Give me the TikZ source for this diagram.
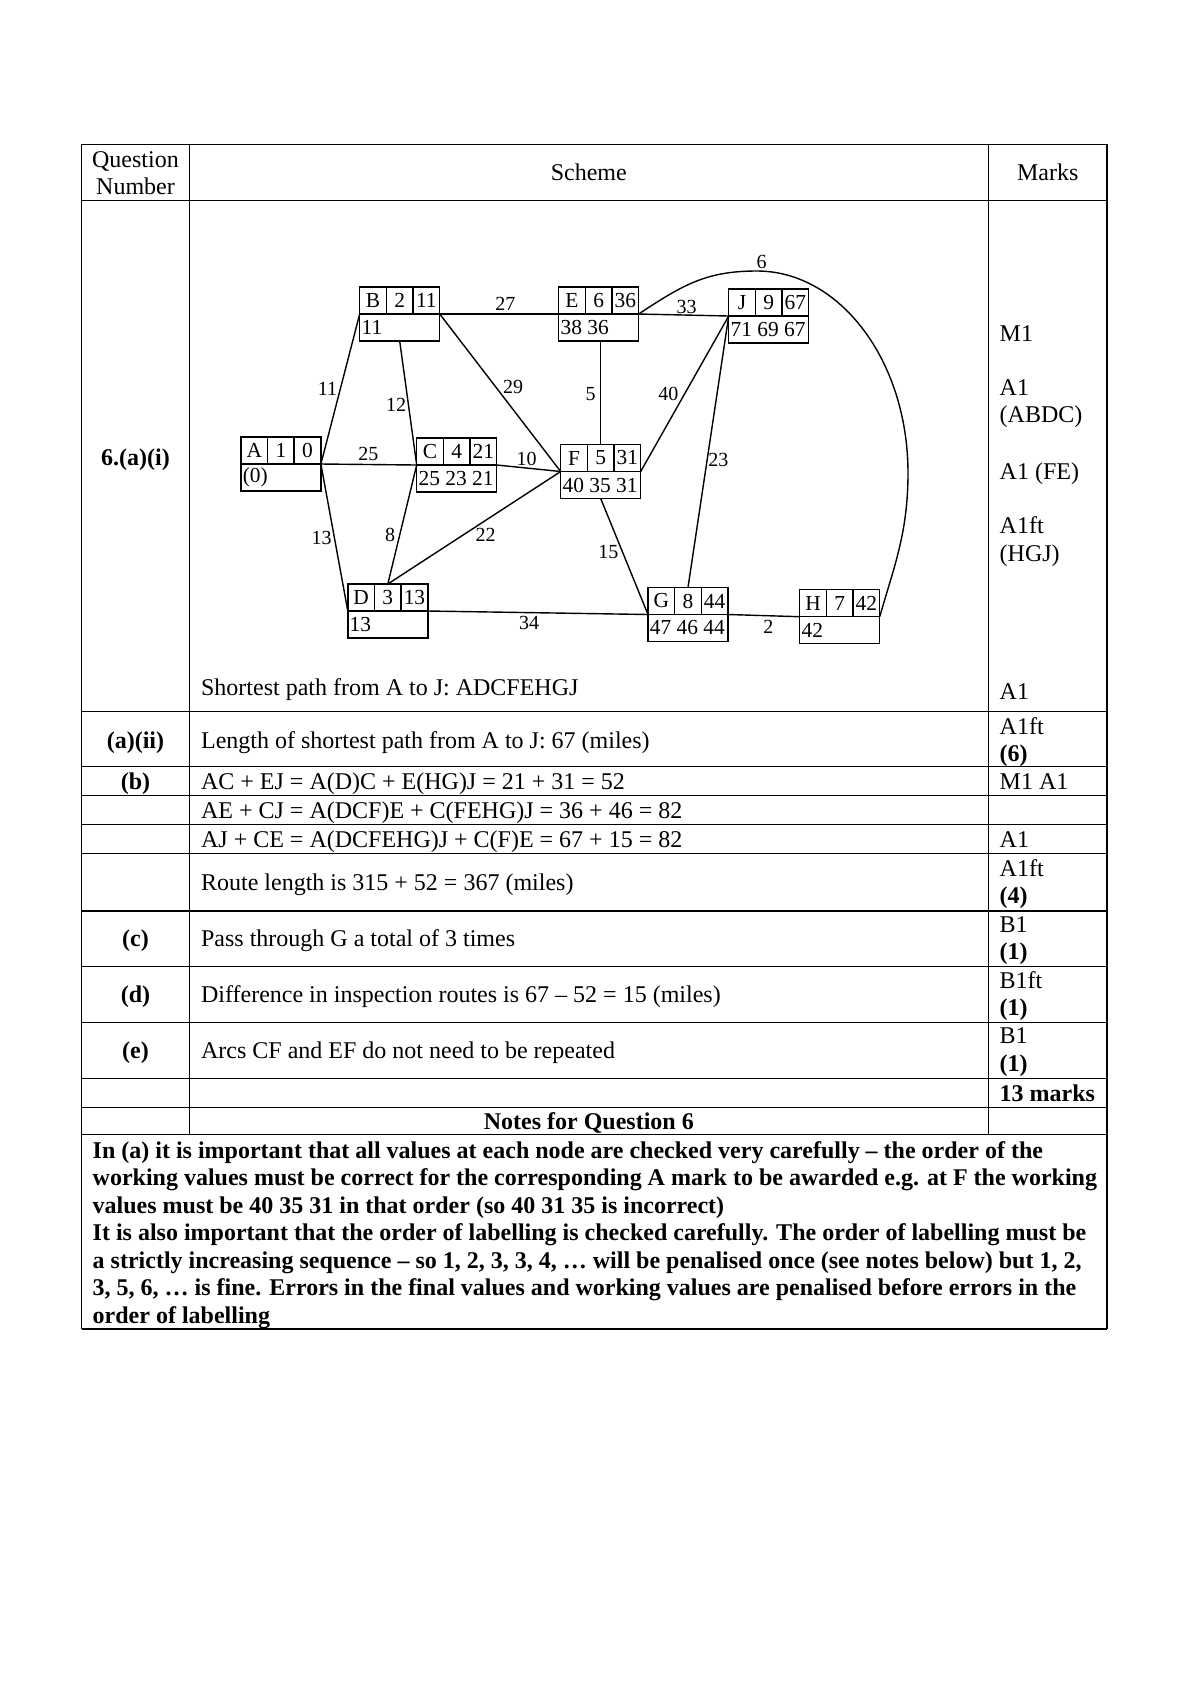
\documentclass[tikz,border=0pt]{standalone}
\usepackage{fontspec}
\setmainfont{Liberation Serif}
\usetikzlibrary{calc}
\tikzset{
  tline/.style={line width=0.55pt},
  gline/.style={line width=0.7pt},
  vbox/.style={draw, line width=0.75pt, minimum width=40pt, minimum height=27pt, inner sep=0pt, outer sep=0pt},
  celltxt/.style={inner sep=0pt, font=\fontsize{10.7}{12}\selectfont},
  wtxt/.style={anchor=west, inner sep=0pt, font=\fontsize{10.7}{12}\selectfont},
  elab/.style={inner sep=0pt, font=\fontsize{10}{12}\selectfont},
  txt/.style={anchor=base west, inner sep=0pt, font=\fontsize{12}{14}\selectfont},
  ctxt/.style={anchor=base, inner sep=0pt, font=\fontsize{12}{14}\selectfont},
  btxt/.style={anchor=base west, inner sep=0pt, font=\fontsize{12}{14}\selectfont\bfseries},
  bctxt/.style={anchor=base, inner sep=0pt, font=\fontsize{12}{14}\selectfont\bfseries},
}
\newcommand\graphvertex[7]{%
  \node[vbox] (#1) at (#2,#3) {};
  \draw[line width=0.75pt] (#1.west) -- (#1.east);
  \draw[line width=0.75pt] ({#2-13.33},{#3-27}) -- ({#2-13.33},#3);
  \draw[line width=0.75pt] ({#2+13.33},{#3-27}) -- ({#2+13.33},#3);
  \node[celltxt] (#1l) at ({#2-26.67},{#3-13.5}) {#4};
  \node[celltxt] (#1o) at (#2,{#3-13.5}) {#5};
  \node[celltxt] (#1f) at ({#2+26.67},{#3-13.5}) {#6};
  \node[wtxt] (#1w) at ({#2-38.5},{#3+13.5}) {#7};
}
\begin{document}
\begin{tikzpicture}[x=0.5pt,y=-0.5pt]
\useasboundingbox[fill=white] (0,0) rectangle (1190,1683);

% ---------- table frame ----------
\foreach \yy in {144.3,200.5,711.3,766.7,795.5,824.5,853.5,911,966.6,1022.5,1078.4,1107.3,1134.8,1329}
  \draw[tline] (81.7,\yy) -- (1107,\yy);
\draw[tline] (81.7,144.3) -- (81.7,1329);
\draw[tline] (1107,144.3) -- (1107,1329);
\draw[tline] (189.3,144.3) -- (189.3,1134.8);
\draw[tline] (988.3,144.3) -- (988.3,1134.8);

% ---------- header ----------
\node[ctxt] (hq1) at (135.5,167.5) {Question};
\node[ctxt] (hq2) at (135.5,194) {Number};
\node[ctxt] (hs) at (588.8,180.5) {Scheme};
\node[ctxt] (hm) at (1047.7,180.5) {Marks};

% ---------- graph ----------
\graphvertex{A}{280.9}{464}{A}{1}{0}{(0)}
\graphvertex{B}{399.7}{314}{B}{2}{11}{11}
\graphvertex{C}{456.7}{465}{C}{4}{21}{25 23 21}
\graphvertex{D}{387.8}{611}{D}{3}{13}{13}
\graphvertex{E}{598.7}{314}{E}{6}{36}{38 36}
\graphvertex{F}{600.7}{471.5}{F}{5}{31}{40 35 31}
\graphvertex{G}{688}{614.5}{G}{8}{44}{47 46 44}
\graphvertex{H}{839.7}{616.7}{H}{7}{42}{42}
\graphvertex{J}{768.7}{316}{J}{9}{67}{71 69 67}

\draw[gline] (A.east) -- (B.west);
\draw[gline] (A.east) -- (C.west);
\draw[gline] (A.east) -- (D.west);
\draw[gline] (B.south) -- (C.west);
\draw[gline] (B.east) -- (E.west);
\draw[gline] (B.east) -- (F.west);
\draw[gline] (C.east) -- (F.west);
\draw[gline] (C.west) -- (D.north);
\draw[gline] (D.north) -- (F.west);
\draw[gline] (D.east) -- (G.west);
\draw[gline] (F.north |- E.south) -- (F.north);
\draw[gline] (E.east) -- (J.west);
\draw[gline] (F.east) -- (J.west);
\draw[gline] (F.south) -- (G.west);
\draw[gline] (G.north) -- (J.west);
\draw[gline] (G.east) -- (H.west);
\draw[gline] (E.east) .. controls (684,284) and (707,271) .. (757,271)
                      .. controls (840,271) and (908,361) .. (908,473)
                      .. controls (908,533) and (894,566.7) .. (H.east);

\node[elab] (w27) at (505.4,304) {27};
\node[elab] (w11) at (327.5,388.5) {11};
\node[elab] (w12) at (396,405) {12};
\node[elab] (w29) at (513,387) {29};
\node[elab] (w5) at (590.7,394.5) {5};
\node[elab] (w25) at (368.3,454.3) {25};
\node[elab] (w10) at (526.7,459.3) {10};
\node[elab] (w13) at (321.7,538.3) {13};
\node[elab] (w8) at (390,535) {8};
\node[elab] (w22) at (485.7,535) {22};
\node[elab] (w15) at (608.3,551.7) {15};
\node[elab] (w34) at (529,622.7) {34};
\node[elab] (w40) at (668.3,394) {40};
\node[elab] (w23) at (718.3,460) {23};
\node[elab] (w33) at (686.7,306.7) {33};
\node[elab] (w2) at (768.3,626.7) {2};
\node[elab] (w6) at (761.7,261.7) {6};

% ---------- row (a)(i) ----------
\node[bctxt] (q1) at (135.5,465) {6.(a)(i)};
\node[txt] (m1) at (999.3,341) {M1};
\node[txt] (m2) at (999.3,395) {A1};
\node[txt] (m3) at (999.3,422) {(ABDC)};
\node[txt] (m4) at (999.3,479.5) {A1 (FE)};
\node[txt] (m5) at (999.3,533.5) {A1ft};
\node[txt] (m6) at (999.3,561) {(HGJ)};
\node[txt] (s1) at (200.7,695.5) {Shortest path from A to J: ADCFEHGJ};
\node[txt] (m7) at (999.3,699) {A1};

% ---------- row (a)(ii) ----------
\node[bctxt] (q2) at (135.5,748) {(a)(ii)};
\node[txt] (s2) at (200.7,748) {Length of shortest path from A to J: 67 (miles)};
\node[txt] (m8) at (999.3,734.5) {A1ft};
\node[btxt] (m9) at (999.3,761.5) {(6)};

% ---------- row (b) ----------
\node[bctxt] (q3) at (135.5,789.5) {(b)};
\node[txt] (s3) at (200.7,789.5) {AC + EJ = A(D)C + E(HG)J = 21 + 31 = 52};
\node[txt] (m10) at (999.3,789.5) {M1 A1};
\node[txt] (s4) at (200.7,818.5) {AE + CJ = A(DCF)E + C(FEHG)J = 36 + 46 = 82};
\node[txt] (s5) at (200.7,847.5) {AJ + CE = A(DCFEHG)J + C(F)E = 67 + 15 = 82};
\node[txt] (m11) at (999.3,847.5) {A1};
\node[txt] (s6) at (200.7,890.5) {Route length is 315 + 52 = 367 (miles)};
\node[txt] (m12) at (999.3,876.5) {A1ft};
\node[btxt] (m13) at (999.3,903.5) {(4)};

% ---------- rows (c)-(e) ----------
\node[bctxt] (q4) at (135.5,946.5) {(c)};
\node[txt] (s7) at (200.7,946.5) {Pass through G a total of 3 times};
\node[txt] (m14) at (999.3,932) {B1};
\node[btxt] (m15) at (999.3,959.5) {(1)};

\node[bctxt] (q5) at (135.5,1002) {(d)};
\node[txt] (s8) at (200.7,1002) {Difference in inspection routes is 67 – 52 = 15 (miles)};
\node[txt] (m16) at (999.3,988) {B1ft};
\node[btxt] (m17) at (999.3,1015.5) {(1)};

\node[bctxt] (q6) at (135.5,1058) {(e)};
\node[txt] (s9) at (200.7,1058) {Arcs CF and EF do not need to be repeated};
\node[txt] (m18) at (999.3,1043.5) {B1};
\node[btxt] (m19) at (999.3,1071) {(1)};

\node[btxt] (m20) at (999.3,1101.5) {13 marks};
\node[bctxt] (nt) at (588.8,1129.5) {Notes for Question 6};

% ---------- notes ----------
\node[btxt] (n1) at (92.3,1158.3) {In (a) it is important that all values at each node are checked very carefully – the order of the};
\node[btxt] (n2) at (92.3,1185.8) {working values must be correct for the corresponding A mark to be awarded e.g. at F the working};
\node[btxt] (n3) at (92.3,1213.3) {values must be 40 35 31 in that order (so 40 31 35 is incorrect)};
\node[btxt] (n4) at (92.3,1240.7) {It is also important that the order of labelling is checked carefully. The order of labelling must be};
\node[btxt] (n5) at (92.3,1268.2) {a strictly increasing sequence – so 1, 2, 3, 3, 4, … will be penalised once (see notes below) but 1, 2,};
\node[btxt] (n6) at (92.3,1295.6) {3, 5, 6, … is fine. Errors in the final values and working values are penalised before errors in the};
\node[btxt] (n7) at (92.3,1323) {order of labelling};
\end{tikzpicture}
\end{document}
